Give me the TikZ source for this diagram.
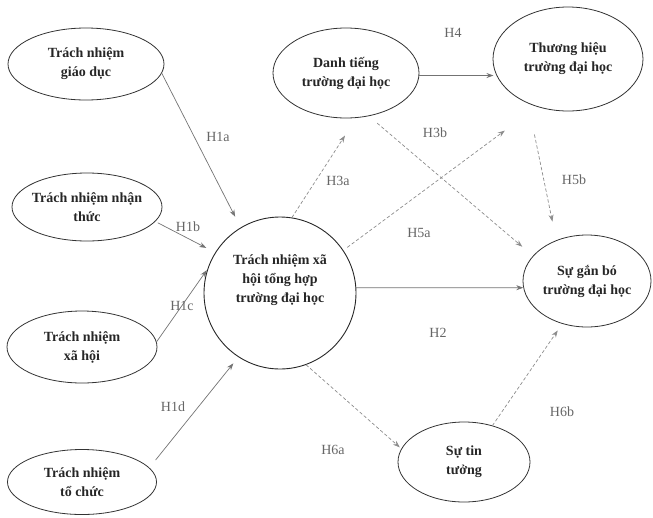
\documentclass[tikz,border=0pt]{standalone}
\usepackage{fontspec}
\setmainfont{Liberation Serif}
\usetikzlibrary{arrows.meta,shapes.geometric}

\begin{document}
\begin{tikzpicture}[
  x=1pt, y=-1pt,
  line cap=round,
  line join=round,
  elip/.style={draw=black!80, line width=0.8pt, ellipse, inner sep=0pt,
    align=center, text=black!85, font=\bfseries\fontsize{14}{19}\selectfont},
  gt/.style={inner sep=0pt, text=black!60, font=\fontsize{14}{16}\selectfont},
  qh/.style={draw=black!55, line width=0.7pt, -{Stealth[length=7pt,width=5pt]}},
  qhdut/.style={qh, draw=black!45, dash pattern=on 3pt off 2.5pt}
]
  \useasboundingbox (0,0) rectangle (653,517);

  % Các thành phần trách nhiệm
  \node[elip, minimum width=156pt, minimum height=72pt] (gd) at (86,64)
    {Trách nhiệm\\giáo dục};
  \node[elip, minimum width=150pt, minimum height=68pt, inner xsep=-4pt] (nt) at (87,207)
    {Trách nhiệm nhận\\thức};
  \node[elip, minimum width=150pt, minimum height=72pt] (xh) at (82,347)
    {Trách nhiệm\\xã hội};
  \node[elip, minimum width=149pt, minimum height=65pt] (tc) at (82,482)
    {Trách nhiệm\\tổ chức};

  % Trách nhiệm xã hội tổng hợp
  \node[circle, draw=black!85, line width=0.9pt, minimum size=152pt] (tn) at (280,293) {};
  \node[align=center, text=black!85, font=\bfseries\fontsize{14}{19}\selectfont] (tnchu) at (280,280)
    {Trách nhiệm xã\\hội tổng hợp\\trường đại học};

  % Các biến trung gian và kết quả
  \node[elip, minimum width=146pt, minimum height=90pt] (dt) at (346,73)
    {Danh tiếng\\trường đại học};
  \node[elip, minimum width=150pt, minimum height=104pt] (th) at (568,59)
    {Thương hiệu\\trường đại học};
  \node[elip, minimum width=128pt, minimum height=92pt] (sgb) at (587,281)
    {Sự gắn bó\\trường đại học};
  \node[elip, minimum width=132pt, minimum height=80pt] (stt) at (464,462)
    {Sự tin\\tưởng};

  % Quan hệ trực tiếp
  \draw[qh, shorten >=12pt] (gd.-7) -- (tn.121);
  \draw[qh, shorten <=3pt, shorten >=10pt] (nt.-12) -- (tn.148);
  \draw[qh, shorten >=1pt] (xh.4) -- (tn.162);
  \draw[qh, shorten <=10pt, shorten >=8pt] (tc.12) -- (tn.-123);
  \draw[qh, shorten >=3pt] (dt.-2) -- (th.-167);
  \draw[qh] (tn.4) -- (sgb.-174);

  % Quan hệ trung gian
  \draw[qhdut, shorten >=21pt] (tn.81) -- (dt.-77);
  \draw[qhdut, shorten <=11pt, shorten >=14pt] (dt.-62) -- (sgb.155);
  \draw[qhdut, shorten <=5pt, shorten >=40pt] (tn.34) -- (th.-123);
  \draw[qhdut, shorten <=32pt, shorten >=19pt] (th.-132) -- (sgb.127);
  \draw[qhdut, shorten >=2pt] (tn.-70) -- (stt.168);
  \draw[qhdut, shorten >=8pt] (stt.52) -- (sgb.-120);

  % Giả thuyết
  \node[gt] (h1a) at (218,137) {H1a};
  \node[gt] (h1b) at (188,227) {H1b};
  \node[gt] (h1c) at (182,306) {H1c};
  \node[gt] (h1d) at (173,407) {H1d};
  \node[gt] (h3a) at (338,181) {H3a};
  \node[gt] (h3b) at (435,133) {H3b};
  \node[gt] (h4)  at (453,33)  {H4};
  \node[gt] (h5a) at (419,233) {H5a};
  \node[gt] (h5b) at (574,180) {H5b};
  \node[gt] (h2)  at (438,333) {H2};
  \node[gt] (h6a) at (333,450) {H6a};
  \node[gt] (h6b) at (562,412) {H6b};
\end{tikzpicture}
\end{document}
